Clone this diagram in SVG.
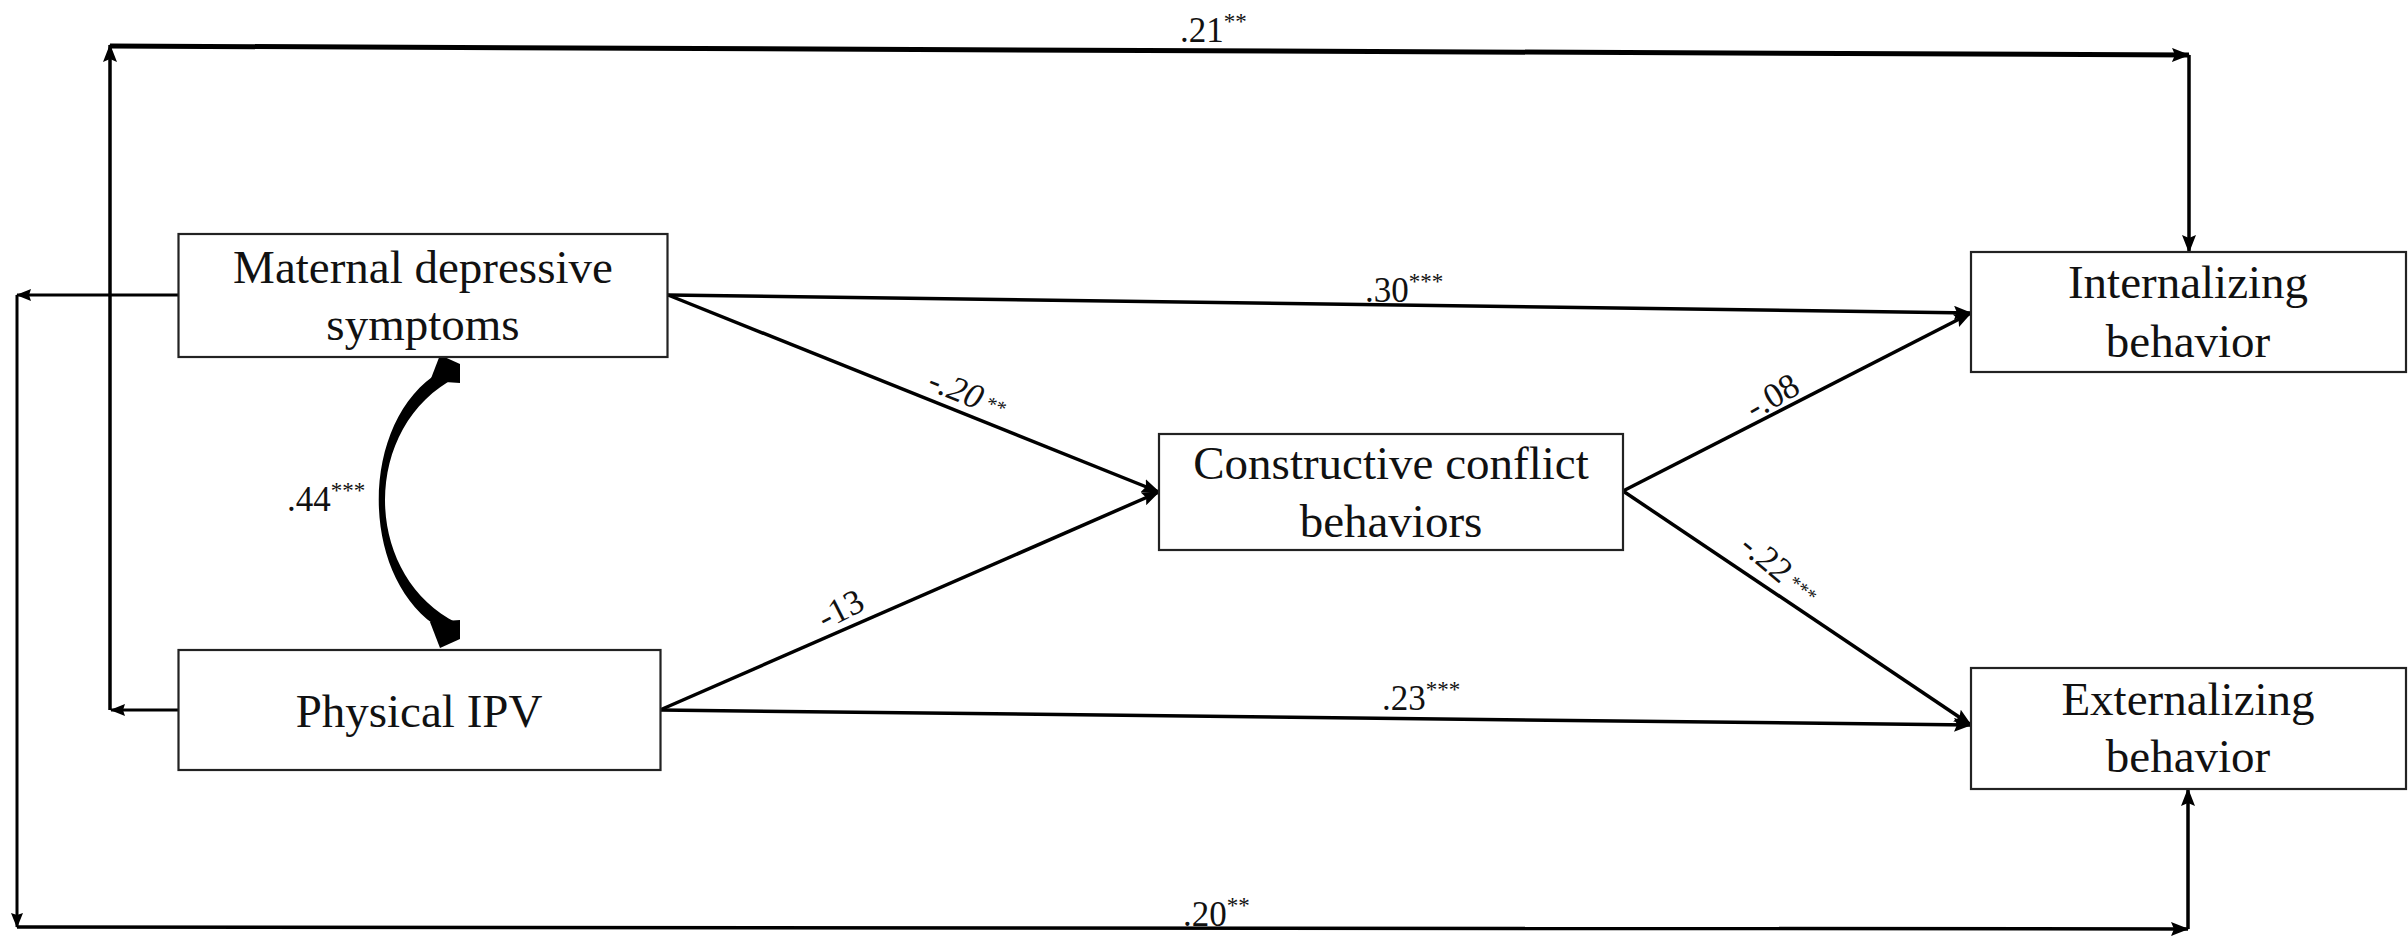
<svg xmlns="http://www.w3.org/2000/svg" width="2408" height="937" viewBox="0 0 2408 937">
  <style>
    .box { fill: #ffffff; stroke: #222222; stroke-width: 2.2; }
    .node { font-family: "Liberation Serif", "Times New Roman", serif; font-size: 47px; fill: #111111; text-anchor: middle; }
    .lbl { font-family: "Liberation Serif", "Times New Roman", serif; font-size: 35px; fill: #111111; }
    .sup { font-size: 23px; }
    .ln { stroke: #000000; fill: none; stroke-width: 3.5; }
    .thick { stroke-width: 5; }
    .thin { stroke-width: 3; }
  </style>
  <defs>
    <marker id="ah" viewBox="0 0 18 14" refX="17" refY="7" markerWidth="18" markerHeight="14" markerUnits="userSpaceOnUse" orient="auto">
      <path d="M0,0 L18,7 L0,14 L3,7 z" fill="#000000"/>
    </marker>
    <marker id="ahs" viewBox="0 0 15 12" refX="14" refY="6" markerWidth="15" markerHeight="12" markerUnits="userSpaceOnUse" orient="auto">
      <path d="M0,0 L15,6 L0,12 L2,6 z" fill="#000000"/>
    </marker>
  </defs>
  <rect width="2408" height="937" fill="#ffffff"/>

  <!-- connectors -->
  <g id="connectors">
    <!-- outer loop: Physical IPV to Internalizing -->
    <line class="ln thin" x1="178" y1="710" x2="111" y2="710" marker-end="url(#ahs)"/>
    <line class="ln" x1="110" y1="710" x2="110" y2="45" stroke-width="4.5" marker-end="url(#ah)"/>
    <line class="ln thick" x1="110" y1="46" x2="2189" y2="55" marker-end="url(#ah)"/>
    <line class="ln" x1="2189" y1="55" x2="2189" y2="252" stroke-width="4" marker-end="url(#ah)"/>
    <!-- outer loop: Maternal depressive symptoms to Externalizing -->
    <line class="ln thin" x1="178" y1="295" x2="17" y2="295" marker-end="url(#ahs)"/>
    <line class="ln thin" x1="17" y1="295" x2="17" y2="927" marker-end="url(#ahs)"/>
    <line class="ln" x1="17" y1="927" x2="2188" y2="929" stroke-width="4" marker-end="url(#ah)"/>
    <line class="ln" x1="2188" y1="929" x2="2188" y2="789" stroke-width="3.5" marker-end="url(#ah)"/>
    <!-- direct paths -->
    <line class="ln" x1="668" y1="295" x2="1971" y2="313" marker-end="url(#ah)"/>
    <line class="ln" x1="660" y1="710" x2="1971" y2="725" marker-end="url(#ah)"/>
    <!-- paths through the mediator -->
    <line class="ln" x1="668" y1="295" x2="1159" y2="492" marker-end="url(#ah)"/>
    <line class="ln" x1="660" y1="710" x2="1159" y2="492" marker-end="url(#ah)"/>
    <line class="ln" x1="1623" y1="491" x2="1971" y2="313" marker-end="url(#ah)"/>
    <line class="ln" x1="1623" y1="491" x2="1971" y2="725" marker-end="url(#ah)"/>
    <!-- covariance between the two predictors -->
    <path d="M441,371 C358,420 358,580 441,629 L457,623 C361,575 361,425 457,377 Z" fill="#000000"/>
    <path d="M440,355 L460,364 L460,383 L430,381 Z" fill="#000000"/>
    <path d="M440,648 L460,639 L460,620 L430,622 Z" fill="#000000"/>

    <!-- coefficients -->
    <text class="lbl" x="1180" y="42">.21<tspan class="sup" dy="-13">**</tspan></text>
    <text class="lbl" x="1365" y="302">.30<tspan class="sup" dy="-13">***</tspan></text>
    <text class="lbl" x="1382" y="710">.23<tspan class="sup" dy="-13">***</tspan></text>
    <text class="lbl" x="1183" y="926">.20<tspan class="sup" dy="-13">**</tspan></text>
    <text class="lbl" x="287" y="511">.44<tspan class="sup" dy="-13">***</tspan></text>
    <text class="lbl" transform="translate(926,389) rotate(22)" font-style="italic">-.20<tspan font-size="20" dy="-4"> **</tspan></text>
    <text class="lbl" transform="translate(825,630) rotate(-27)">-13</text>
    <text class="lbl" transform="translate(1754,420) rotate(-30)">-.08</text>
    <text class="lbl" transform="translate(1738,549) rotate(40)">-.22<tspan font-size="20" dy="-4"> ***</tspan></text>
  </g>

  <g id="maternal">
    <rect class="box" x="178.5" y="234" width="489" height="123"/>
    <text class="node" x="423" y="283">Maternal depressive</text>
    <text class="node" x="423" y="340">symptoms</text>
  </g>
  <g id="physical">
    <rect class="box" x="178.5" y="650" width="482" height="120"/>
    <text class="node" x="419" y="727">Physical IPV</text>
  </g>
  <g id="constructive">
    <rect class="box" x="1159" y="434" width="464" height="116"/>
    <text class="node" x="1391" y="479">Constructive conflict</text>
    <text class="node" x="1391" y="537">behaviors</text>
  </g>
  <g id="internalizing">
    <rect class="box" x="1971" y="252" width="435" height="120"/>
    <text class="node" x="2188" y="298">Internalizing</text>
    <text class="node" x="2188" y="357">behavior</text>
  </g>
  <g id="externalizing">
    <rect class="box" x="1971" y="668" width="435" height="121"/>
    <text class="node" x="2188" y="715">Externalizing</text>
    <text class="node" x="2188" y="772">behavior</text>
  </g>
</svg>
